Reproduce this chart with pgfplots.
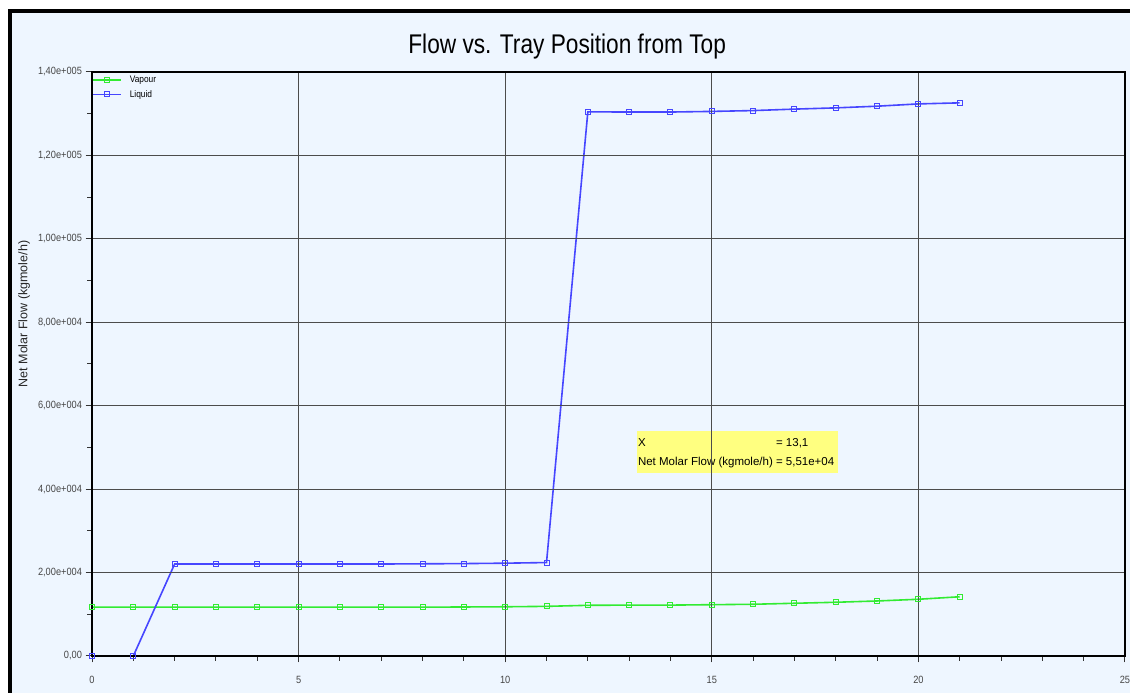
\documentclass[border=0pt]{standalone}
\usepackage{fontspec}
\setmainfont{Liberation Sans}
\newfontfamily\titlefont[FakeStretch=0.84]{Liberation Sans}
\newfontfamily\tickfont[FakeStretch=0.88]{Liberation Sans}
\usepackage{pgfplots}
\pgfplotsset{compat=1.18}
\definecolor{bgblue}{RGB}{238,246,255}
\definecolor{vap}{RGB}{50,235,50}
\definecolor{liq}{RGB}{70,70,255}
\definecolor{hl}{RGB}{255,255,128}
\definecolor{tickgray}{RGB}{70,70,70}
\begin{document}
\begin{tikzpicture}
\fill[white] (0pt,0pt) rectangle (1130pt,693pt);
\fill[bgblue] (12.3pt,0pt) rectangle (1130pt,679.7pt);
\fill[black] (8.3pt,0pt) rectangle (12.3pt,683.7pt);
\fill[black] (8.3pt,679.7pt) rectangle (1130pt,683.7pt);
\begin{axis}[
  axis on top,
  at={(92pt,37pt)}, anchor=south west,
  scale only axis, width=1033pt, height=584pt,
  xmin=0, xmax=25, ymin=0, ymax=140000,
  scaled x ticks=false, scaled y ticks=false,
  xtick={0,5,10,15,20,25},
  xticklabels={0,5,10,15,20,25},
  ytick={0,20000,40000,60000,80000,100000,120000,140000},
  yticklabels={{0,00},{2,00e+004},{4,00e+004},{6,00e+004},{8,00e+004},{1,00e+005},{1,20e+005},{1,40e+005}},
  minor x tick num=4, minor y tick num=1,
  xtick pos=lower, ytick pos=left,
  tick align=outside,
  major tick length=6.5pt, minor tick length=5pt,
  tick style={black!80, line width=1pt},
  grid=major,
  grid style={black!70, line width=1pt},
  axis line style={line width=1.6pt, black},
  tick label style={font=\tickfont\fontsize{10.5}{12}\selectfont, text=tickgray},
  xticklabel style={yshift=-10pt, overlay},
  title={Flow vs. Tray Position from Top},
  title style={at={(axis description cs:0.46,1.034)}, anchor=center, font=\titlefont\fontsize{27}{30}\selectfont},
  ylabel={Net Molar Flow (kgmole/h)},
  ylabel style={at={(axis description cs:-0.0658,0.5856)}, anchor=center, font=\fontsize{12.5}{14}\selectfont, text=black!85},
  legend style={at={(0,1)}, anchor=north west, draw=none, fill=none, inner sep=0pt, row sep=6pt,
     yshift=-4pt,
     font=\tickfont\fontsize{9.5}{10}\selectfont, cells={anchor=west},
     nodes={inner xsep=2pt, inner ysep=0pt}},
  legend image code/.code={\draw[mark repeat=2,mark phase=2,#1] plot coordinates {(-2pt,0pt) (12pt,0pt) (26pt,0pt)}; \path (32pt,0pt);},
]
\fill[hl] (axis cs:13.19,43870) rectangle (axis cs:18.05,53940);
\addplot[color=vap, line width=1.6pt, mark=square, mark size=2.5pt, mark options={line width=1pt}] coordinates {
(0,11700) (1,11700) (2,11700) (3,11700) (4,11700) (5,11700) (6,11700) (7,11700) (8,11700) (9,11750) (10,11800)
(11,11900) (12,12150) (13,12200) (14,12200) (15,12300) (16,12400) (17,12640) (18,12880) (19,13190) (20,13600) (21,14200)};
\addlegendentry{Vapour}
\addplot[color=liq, line width=1.6pt, mark=square, mark size=2.5pt, mark options={line width=1pt}] coordinates {
(0,0) (1,0) (2,22050) (3,22050) (4,22050) (5,22050) (6,22050) (7,22050) (8,22100) (9,22150) (10,22250) (11,22400)
(12,130450) (13,130400) (14,130400) (15,130550) (16,130750) (17,131100) (18,131400) (19,131800) (20,132350) (21,132600)};
\addlegendentry{Liquid}
\node[anchor=west, inner sep=0pt, font=\fontsize{11.5}{19}\selectfont] at (axis cs:13.21,48900)
 {\begin{tabular}{@{}l@{ }l@{}}X & = 13,1\\ Net Molar Flow (kgmole/h) & = 5,51e+04\end{tabular}};
\end{axis}
\end{tikzpicture}
\end{document}
